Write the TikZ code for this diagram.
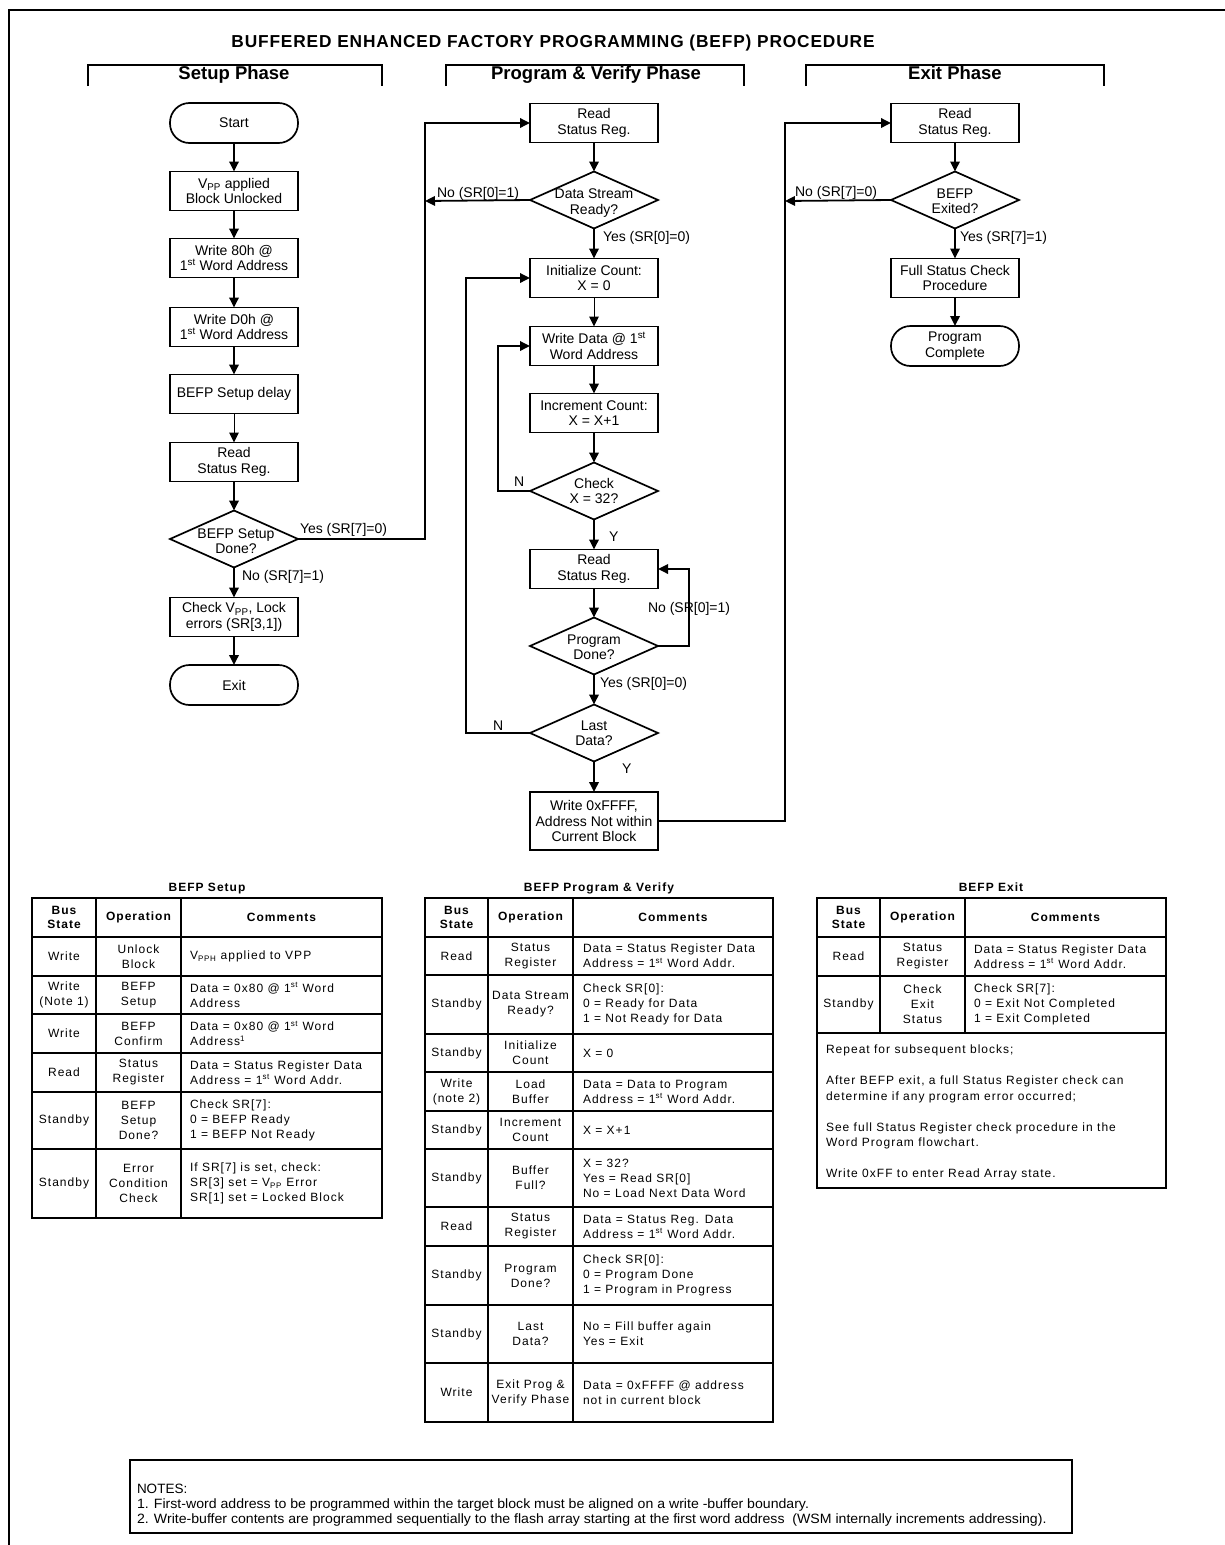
\documentclass[tikz,border=0pt]{standalone}
\usepackage{fontspec}
\setmainfont{Liberation Sans}
\newfontfamily\tabfont{Liberation Sans}[LetterSpace=8.5]
\newfontfamily\titlefont{Liberation Sans}[LetterSpace=5]
\usetikzlibrary{arrows.meta,shapes.geometric}
\newcommand\sts{\textsuperscript{st}}
\newcommand\vppx{V\textsubscript{PP}}
\begin{document}
\begin{tikzpicture}[x=1pt,y=-1pt,
  every node/.style={inner sep=0pt, outer sep=0pt},
  box/.style={draw, line width=1.7pt, minimum width=128pt, minimum height=39pt, align=center, font=\fontsize{14}{15.5}\selectfont},
  term/.style={box, minimum height=40pt, rounded corners=19.5pt},
  dia/.style={draw, diamond, line width=1.7pt, minimum width=128pt, minimum height=57pt},
  dtext/.style={align=center, font=\fontsize{14}{15.5}\selectfont},
  lbl/.style={anchor=base west, font=\fontsize{14}{16}\selectfont},
  conn/.style={line width=1.8pt, -{Triangle[length=10pt,width=9.5pt]}},
  thinconn/.style={line width=1pt, -{Triangle[length=10pt,width=9.5pt]}},
  brk/.style={line width=2.2pt},
  hdr/.style={anchor=base, font=\bfseries\fontsize{18.5}{20}\selectfont},
  tb/.style={line width=1.5pt},
  th/.style={align=center, font=\tabfont\bfseries\fontsize{12}{14}\selectfont},
  tc/.style={align=center, font=\tabfont\fontsize{12}{15}\selectfont},
  tl/.style={align=left, anchor=west, font=\tabfont\fontsize{12}{15}\selectfont},
  ttl/.style={anchor=base, font=\tabfont\bfseries\fontsize{12}{14}\selectfont},
  nt/.style={anchor=base west, font=\fontsize{13.5}{15}\selectfont},
]
\useasboundingbox (0,0) rectangle (1225,1545);
% frame
\draw[line width=2.2pt] (9,1545) -- (9,10) -- (1225,10);
% title
\node[anchor=base, font=\titlefont\bfseries\fontsize{17.3}{20}\selectfont] (title) at (553,47) {BUFFERED ENHANCED FACTORY PROGRAMMING (BEFP) PROCEDURE};
% brackets
\draw[brk] (88,86) -- (88,65) -- (382,65) -- (382,86);
\draw[brk] (446,86) -- (446,65) -- (744,65) -- (744,86);
\draw[brk] (806,86) -- (806,65) -- (1104,65) -- (1104,86);
\node[hdr] (h1) at (234,79) {Setup Phase};
\node[hdr] (h2) at (596,79) {Program \& Verify Phase};
\node[hdr] (h3) at (955,79) {Exit Phase};

% ---------- setup column
\node[term] (start) at (234,123) {Start};
\node[box] (vpp) at (234,191) {\vppx{} applied\\Block Unlocked};
\node[box] (w80) at (234,258) {Write 80h @\\1\sts{} Word Address};
\node[box] (wd0) at (234,327) {Write D0h @\\1\sts{} Word Address};
\node[box] (delay) at (234,394) {BEFP Setup delay};
\node[box] (rsr1) at (234,462) {Read\\Status Reg.};
\node[dia] (dsetup) at (234,539) {};
\node[dtext] (dsetupt) at (236,541) {BEFP Setup\\Done?};
\node[box] (chk) at (234,617) {Check \vppx, Lock\\errors (SR[3,1])};
\node[term] (exit) at (234,685) {Exit};

% ---------- program column
\node[box] (rsr2) at (594,123) {Read\\Status Reg.};
\node[dia] (dstream) at (594,200) {};
\node[dtext] (dstreamt) at (594,203) {Data Stream\\Ready?};
\node[box] (init) at (594,278) {Initialize Count:\\X = 0};
\node[box] (wdata) at (594,346) {Write Data @ 1\sts\\Word Address};
\node[box] (inc) at (594,413) {Increment Count:\\X = X+1};
\node[dia] (dcheck) at (594,491) {};
\node[dtext] (dcheckt) at (594,491) {Check\\X = 32?};
\node[box] (rsr3) at (594,569) {Read\\Status Reg.};
\node[dia] (dprog) at (594,646) {};
\node[dtext] (dprogt) at (594,647) {Program\\Done?};
\node[dia] (dlast) at (594,733) {};
\node[dtext] (dlastt) at (594,733) {Last\\Data?};
\node[box, minimum height=58pt] (wff) at (594,821) {Write 0xFFFF,\\Address Not within\\Current Block};

% ---------- exit column
\node[box] (rsr4) at (955,123) {Read\\Status Reg.};
\node[dia] (dexit) at (955,200) {};
\node[dtext] (dexitt) at (955,201) {BEFP\\Exited?};
\node[box] (full) at (955,278) {Full Status Check\\Procedure};
\node[term] (pc) at (955,346) {Program\\Complete};

% coordinates for merge points
\coordinate (busA) at (425,201);
\coordinate (busB) at (785,201);

% ---------- connectors setup
\draw[conn] (start) -- (vpp);
\draw[conn] (vpp) -- (w80);
\draw[conn] (w80) -- (wd0);
\draw[conn] (wd0) -- (delay);
\draw[thinconn] (delay) -- (rsr1);
\draw[conn] (rsr1) -- (dsetup);
\draw[conn] (dsetup) -- (chk);
\draw[conn] (chk) -- (exit);
\draw[conn] (dsetup.east) -- (dsetup.east -| busA) |- (rsr2.west);
\node[lbl] (l1) at (300,533) {Yes (SR[7]=0)};
\node[lbl] (l2) at (242,580) {No (SR[7]=1)};

% ---------- connectors program
\draw[conn] (rsr2) -- (dstream);
\draw[conn] (dstream.west) -- (busA);
\node[lbl] (l3) at (437,197) {No (SR[0]=1)};
\draw[conn] (dstream) -- (init);
\node[lbl] (l4) at (603,241) {Yes (SR[0]=0)};
\draw[thinconn] (init) -- (wdata);
\draw[conn] (wdata) -- (inc);
\draw[conn] (inc) -- (dcheck);
\draw[conn] (dcheck.west) -- ++(-32,0) |- (wdata.west);
\node[lbl] (l5) at (514,486) {N};
\draw[conn] (dcheck) -- (rsr3);
\node[lbl] (l6) at (609,541) {Y};
\draw[conn] (rsr3) -- (dprog);
\draw[conn] (dprog.east) -- ++(31,0) |- (rsr3.east);
\node[lbl] (l7) at (648,612) {No (SR[0]=1)};
\draw[conn] (dprog) -- (dlast);
\node[lbl] (l8) at (600,687) {Yes (SR[0]=0)};
\draw[conn] (dlast.west) -- ++(-64,0) |- (init.west);
\node[lbl] (l9) at (493,730) {N};
\draw[conn] (dlast) -- (wff);
\node[lbl] (l10) at (622,773) {Y};
\draw[conn] (wff.east) -- ++(127,0) |- (rsr4.west);

% ---------- connectors exit
\draw[conn] (rsr4) -- (dexit);
\draw[conn] (dexit.west) -- (busB);
\node[lbl] (l11) at (795,196) {No (SR[7]=0)};
\draw[conn] (dexit) -- (full);
\node[lbl] (l12) at (960,241) {Yes (SR[7]=1)};
\draw[conn] (full) -- (pc);

% ================= TABLE: BEFP Setup
\node[ttl] (t1) at (207,891) {BEFP Setup};
\draw[tb] (32,898) rectangle (382,1218);
\foreach \y in {937,976,1014,1053,1092,1149} \draw[tb] (32,\y) -- (382,\y);
\draw[tb] (96,898) -- (96,1218);
\draw[tb] (181,898) -- (181,1218);
\node[th] (s01) at (64,917.5) {Bus\\State};
\node[th] (s02) at (138.5,917.5) {Operation};
\node[th] (s03) at (281.5,917.5) {Comments};
\node[tc] (s11) at (64,956.5) {Write};
\node[tc] (s12) at (138.5,956.5) {Unlock\\Block};
\node[tl] (s13) at (190,956.5) {V\textsubscript{PPH} applied to VPP};
\node[tc] (s21) at (64,995) {Write\\(Note 1)};
\node[tc] (s22) at (138.5,995) {BEFP\\Setup};
\node[tl] (s23) at (190,995) {Data = 0x80 @ 1\sts{} Word\\Address};
\node[tc] (s31) at (64,1033.5) {Write};
\node[tc] (s32) at (138.5,1033.5) {BEFP\\Confirm};
\node[tl] (s33) at (190,1033.5) {Data = 0x80 @ 1\sts{} Word\\Address\textsuperscript{1}};
\node[tc] (s41) at (64,1072.5) {Read};
\node[tc] (s42) at (138.5,1072.5) {Status\\Register};
\node[tl] (s43) at (190,1072.5) {Data = Status Register Data\\Address = 1\sts{} Word Addr.};
\node[tc] (s51) at (64,1120.5) {Standby};
\node[tc] (s52) at (138.5,1120.5) {BEFP\\Setup\\Done?};
\node[tl] (s53) at (190,1120.5) {Check SR[7]:\\0 = BEFP Ready\\1 = BEFP Not Ready};
\node[tc] (s61) at (64,1183.5) {Standby};
\node[tc] (s62) at (138.5,1183.5) {Error\\Condition\\Check};
\node[tl] (s63) at (190,1183.5) {If SR[7] is set, check:\\SR[3] set = \vppx{} Error\\SR[1] set = Locked Block};

% ================= TABLE: BEFP Program & Verify
\node[ttl] (t2) at (599,891) {BEFP Program \& Verify};
\draw[tb] (425,898) rectangle (773,1422);
\foreach \y in {937,975,1034,1072,1111,1149,1207,1246,1305,1363} \draw[tb] (425,\y) -- (773,\y);
\draw[tb] (488,898) -- (488,1422);
\draw[tb] (573,898) -- (573,1422);
\node[th] (p01) at (456.5,917.5) {Bus\\State};
\node[th] (p02) at (530.5,917.5) {Operation};
\node[th] (p03) at (673,917.5) {Comments};
\node[tc] (p11) at (456.5,956) {Read};
\node[tc] (p12) at (530.5,956) {Status\\Register};
\node[tl] (p13) at (583,956) {Data = Status Register Data\\Address = 1\sts{} Word Addr.};
\node[tc] (p21) at (456.5,1004.5) {Standby};
\node[tc] (p22) at (530.5,1004.5) {Data Stream\\Ready?};
\node[tl] (p23) at (583,1004.5) {Check SR[0]:\\0 = Ready for Data\\1 = Not Ready for Data};
\node[tc] (p31) at (456.5,1053) {Standby};
\node[tc] (p32) at (530.5,1053) {Initialize\\Count};
\node[tl] (p33) at (583,1053) {X = 0};
\node[tc] (p41) at (456.5,1091.5) {Write\\(note 2)};
\node[tc] (p42) at (530.5,1091.5) {Load\\Buffer};
\node[tl] (p43) at (583,1091.5) {Data = Data to Program\\Address = 1\sts{} Word Addr.};
\node[tc] (p51) at (456.5,1130) {Standby};
\node[tc] (p52) at (530.5,1130) {Increment\\Count};
\node[tl] (p53) at (583,1130) {X = X+1};
\node[tc] (p61) at (456.5,1178) {Standby};
\node[tc] (p62) at (530.5,1178) {Buffer\\Full?};
\node[tl] (p63) at (583,1178) {X = 32?\\Yes = Read SR[0]\\No = Load Next Data Word};
\node[tc] (p71) at (456.5,1226.5) {Read};
\node[tc] (p72) at (530.5,1226.5) {Status\\Register};
\node[tl] (p73) at (583,1226.5) {Data = Status Reg. Data\\Address = 1\sts{} Word Addr.};
\node[tc] (p81) at (456.5,1275.5) {Standby};
\node[tc] (p82) at (530.5,1275.5) {Program\\Done?};
\node[tl] (p83) at (583,1275.5) {Check SR[0]:\\0 = Program Done\\1 = Program in Progress};
\node[tc] (p91) at (456.5,1334) {Standby};
\node[tc] (p92) at (530.5,1334) {Last\\Data?};
\node[tl] (p93) at (583,1334) {No = Fill buffer again\\Yes = Exit};
\node[tc] (pa1) at (456.5,1392.5) {Write};
\node[tc] (pa2) at (530.5,1392.5) {Exit Prog \&\\Verify Phase};
\node[tl] (pa3) at (583,1392.5) {Data = 0xFFFF @ address\\not in current block};

% ================= TABLE: BEFP Exit
\node[ttl] (t3) at (991,891) {BEFP Exit};
\draw[tb] (817,898) rectangle (1166,1188);
\foreach \y in {937,976,1033} \draw[tb] (817,\y) -- (1166,\y);
\draw[tb] (880,898) -- (880,1033);
\draw[tb] (965,898) -- (965,1033);
\node[th] (e01) at (848.5,917.5) {Bus\\State};
\node[th] (e02) at (922.5,917.5) {Operation};
\node[th] (e03) at (1065.5,917.5) {Comments};
\node[tc] (e11) at (848.5,956.5) {Read};
\node[tc] (e12) at (922.5,956.5) {Status\\Register};
\node[tl] (e13) at (974,956.5) {Data = Status Register Data\\Address = 1\sts{} Word Addr.};
\node[tc] (e21) at (848.5,1004.5) {Standby};
\node[tc] (e22) at (922.5,1004.5) {Check\\Exit\\Status};
\node[tl] (e23) at (974,1004.5) {Check SR[7]:\\0 = Exit Not Completed\\1 = Exit Completed};
\node[tl, anchor=base west] (en1) at (826,1053) {Repeat for subsequent blocks;};
\node[tl, anchor=base west] (en2) at (826,1084) {After BEFP exit, a full Status Register check can};
\node[tl, anchor=base west] (en3) at (826,1100) {determine if any program error occurred;};
\node[tl, anchor=base west] (en4) at (826,1131) {See full Status Register check procedure in the};
\node[tl, anchor=base west] (en5) at (826,1146) {Word Program flowchart.};
\node[tl, anchor=base west] (en6) at (826,1177) {Write 0xFF to enter Read Array state.};

% ================= NOTES
\draw[line width=1.5pt] (130,1460) rectangle (1072,1533);
\node[nt] (n0) at (137,1493) {NOTES:};
\node[nt] (n1) at (137,1508) {\scalebox{1.045}[1]{1. First-word address to be programmed within the target block must be aligned on a write -buffer boundary.}};
\node[nt] (n2) at (137,1523) {\scalebox{1.045}[1]{2. Write-buffer contents are programmed sequentially to the flash array starting at the first word address\ \ (WSM internally increments addressing).}};
\end{tikzpicture}
\end{document}
